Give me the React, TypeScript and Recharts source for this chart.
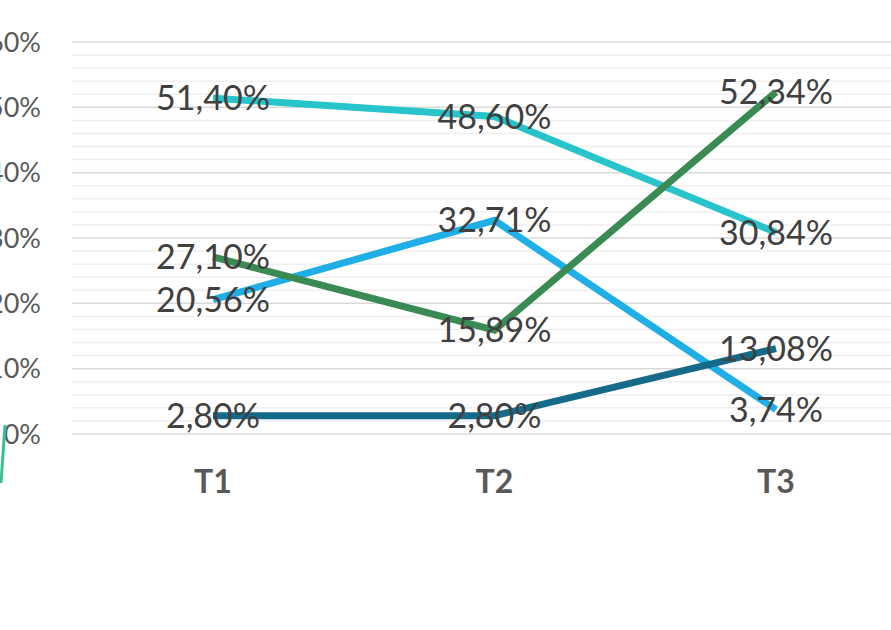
import React from 'react';
import { LineChart, Line, XAxis, YAxis, ReferenceLine, LabelList } from 'recharts';

const periods = ['T1', 'T2', 'T3'];
const serieA = [51.4, 48.6, 30.84];
const serieB = [20.56, 32.71, 3.74];
const serieC = [27.1, 15.89, 52.34];
const serieD = [2.8, 2.8, 13.08];

const majorTicks = [0, 10, 20, 30, 40, 50, 60];
const minorTicks = [2, 4, 6, 8, 12, 14, 16, 18, 22, 24, 26, 28, 32, 34, 36, 38, 42, 44, 46, 48, 52, 54, 56, 58];

const data = periods.map((p, i) => ({ name: p, a: serieA[i], b: serieB[i], c: serieC[i], d: serieD[i] }));

const series = [
  { key: 'a', color: '#27C4CC' },
  { key: 'b', color: '#1FAEE5' },
  { key: 'c', color: '#3A8A54' },
  { key: 'd', color: '#166A89' },
];

const fmt = (v: any) => Number(v).toFixed(2).replace('.', ',') + '%';

const font = 'Lato, "Open Sans", sans-serif';

export default function App() {
  return (
    <div style={{ position: 'absolute', left: 0, top: 0, width: 891, height: 630, overflow: 'hidden', background: '#fff', fontFamily: font }}>
      <LineChart width={960} height={630} data={data} margin={{ top: 42, right: 43, left: 0, bottom: 136 }}>
        {minorTicks.map((t) => (
          <ReferenceLine key={'m' + t} y={t} stroke="#efefef" strokeWidth={1.5} />
        ))}
        {majorTicks.map((t) => (
          <ReferenceLine key={'M' + t} y={t} stroke="#d9d9d9" strokeWidth={1.5} />
        ))}
        <XAxis
          dataKey="name"
          axisLine={false}
          tickLine={false}
          tickSize={0}
          tickMargin={36}
          height={60}
          padding={{ left: 141, right: 141 }}
          tick={{ fill: '#595959', fontSize: 32, fontWeight: 700, fontFamily: font }}
        />
        <YAxis
          type="number"
          domain={[0, 60]}
          ticks={majorTicks}
          width={72}
          axisLine={false}
          tickLine={false}
          tickSize={0}
          tickMargin={31}
          tickFormatter={(v: number) => v + '%'}
          tick={{ fill: '#595959', fontSize: 27, fontFamily: font }}
        />
        {series.map((s) => (
          <Line
            key={s.key}
            dataKey={s.key}
            stroke={s.color}
            strokeWidth={7}
            dot={false}
            activeDot={false}
            type="linear"
            isAnimationActive={false}
          />
        ))}
        {series.map((s) => (
          <Line
            key={'lbl' + s.key}
            dataKey={s.key}
            stroke="none"
            dot={false}
            activeDot={false}
            legendType="none"
            isAnimationActive={false}
          >
            <LabelList dataKey={s.key} position="center" formatter={fmt} fill="#404040" fontSize={34} fontFamily={font} />
          </Line>
        ))}
      </LineChart>
      <svg width={10} height={70} style={{ position: 'absolute', left: 0, top: 420 }}>
        <path d="M 5 5 Q 3 35 1 63" stroke="#3DBE9A" strokeWidth={3} fill="none" />
      </svg>
    </div>
  );
}
